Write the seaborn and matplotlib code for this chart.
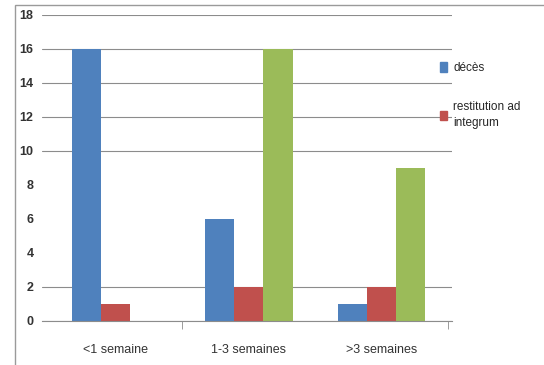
import pandas as pd
import numpy as np
import seaborn as sns
import matplotlib.pyplot as plt
from matplotlib.patches import Rectangle, Patch

# Data
categories = ["<1 semaine", "1-3 semaines", ">3 semaines"]
deces = [16, 6, 1]
restitution = [1, 2, 2]
autre = [0, 16, 9]
series_names = ["décès", "restitution ad\nintegrum", "autre"]
colors = ["#4F81BD", "#C0504D", "#9BBB59"]
yticks = [0, 2, 4, 6, 8, 10, 12, 14, 16, 18]
grid_lines = [0, 2, 10, 12, 14, 16, 18]

df = pd.DataFrame({
    "cat": categories * 3,
    "val": deces + restitution + autre,
    "serie": [series_names[0]] * 3 + [series_names[1]] * 3 + [series_names[2]] * 3,
})

sns.set_style("white")
plt.rcParams["font.family"] = ["Liberation Sans Narrow", "Liberation Sans", "DejaVu Sans"]

fig = plt.figure(figsize=(5.44, 3.65), dpi=100)
ax = fig.add_axes([0.077, 0.121, 0.754, 0.838])

# gridlines (some are missing in the original)
for y in grid_lines:
    ax.axhline(y, color="#8c8c8c", lw=0.8, zorder=0)

sns.barplot(data=df, x="cat", y="val", hue="serie", palette=colors,
            width=0.66, saturation=1, ax=ax, legend=False, zorder=2,
            linewidth=0, edgecolor="none")

ax.set_xlim(-0.555, 2.53)
ax.set_ylim(0, 18)
ax.set_yticks(yticks)
ax.set_yticklabels([str(t) for t in yticks], fontsize=9, fontweight="bold", color="#333333")
ax.set_xlabel("")
ax.set_ylabel("")
ax.tick_params(axis="x", length=0, labelsize=9, pad=17, colors="#333333")
ax.tick_params(axis="y", length=0, pad=6)
ax.set_xticks([0.5, 2.5], minor=True)
ax.tick_params(axis="x", which="minor", length=6, color="#8c8c8c", direction="out", bottom=True)

for s in ["top", "right", "left"]:
    ax.spines[s].set_visible(False)
ax.spines["bottom"].set_color("#8c8c8c")
ax.spines["bottom"].set_linewidth(0.8)

# legend, only two entries visible in the original
handles = [Patch(color=colors[0], label=series_names[0]),
           Patch(color=colors[1], label=series_names[1])]
leg = fig.legend(handles=handles, loc="upper left", bbox_to_anchor=(0.79, 0.86),
                 frameon=False, fontsize=8.5, handlelength=0.6, handleheight=0.9,
                 handletextpad=0.5, labelspacing=2.3)
for t in leg.get_texts():
    t.set_linespacing(1.5)

# outer frame
fig.patches.append(Rectangle((0.028, -0.01), 1.0, 0.997, transform=fig.transFigure,
                             fill=False, edgecolor="#9a9a9a", lw=1))

fig.savefig("out.png", dpi=100)
